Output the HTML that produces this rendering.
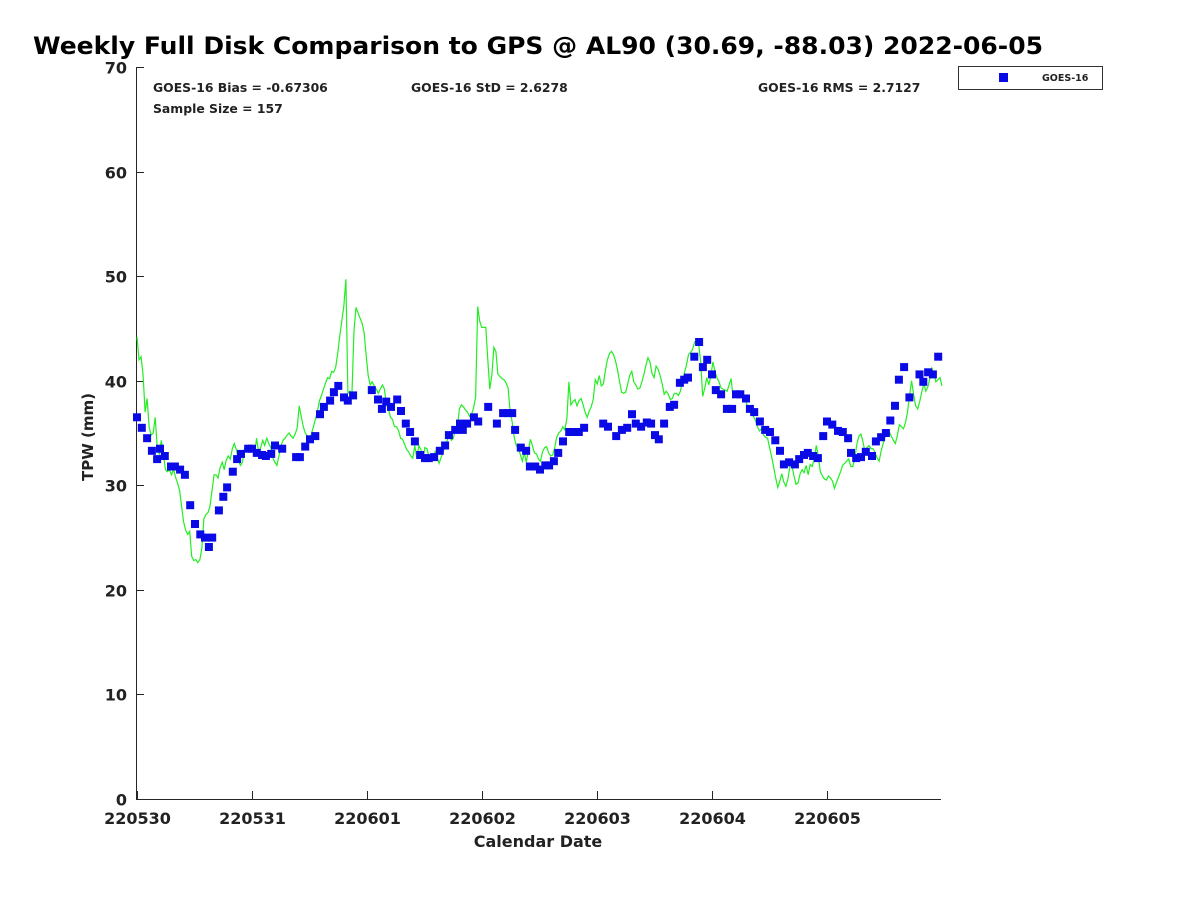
<!DOCTYPE html>
<html><head><meta charset="utf-8"><style>
body{margin:0;background:#fff;}
svg text{font-family:"DejaVu Sans","Liberation Sans",sans-serif;font-weight:bold;fill:#222;}
</style></head><body>
<svg id="chart" width="1200" height="900" xmlns="http://www.w3.org/2000/svg">
<rect width="1200" height="900" fill="#fff"/>
<text x="33" y="54" font-size="24" style="fill:#000" textLength="1010" lengthAdjust="spacingAndGlyphs">Weekly Full Disk Comparison to GPS @ AL90 (30.69, -88.03) 2022-06-05</text>
<g id="axes"></g>
<g id="marks"></g>
<text x="153" y="92" font-size="12.4">GOES-16 Bias = -0.67306</text>
<text x="411" y="92" font-size="12.4">GOES-16 StD = 2.6278</text>
<text x="758" y="92" font-size="12.4">GOES-16 RMS = 2.7127</text>
<text x="153" y="113" font-size="12.4">Sample Size = 157</text>
<g>
<rect x="958.5" y="66.5" width="144" height="23" fill="#fff" stroke="#333" stroke-width="1"/>
<rect x="999" y="73" width="9" height="9" fill="#0a0ae6"/>
<text x="1042" y="81" font-size="9.5">GOES-16</text>
</g>
<text x="538" y="847" font-size="16" text-anchor="middle">Calendar Date</text>
<text transform="translate(93,437) rotate(-90)" font-size="15" text-anchor="middle">TPW (mm)</text>
</svg>
<script>
const xTickLabels = ["220530","220531","220601","220602","220603","220604","220605"];
const yTickValues = [0,10,20,30,40,50,60,70];
const goesHours = [0,1.0,2.1,3.1,4.2,4.8,5.8,7.1,7.9,9.0,10.0,11.1,12.1,13.2,14.2,15.0,15.7,17.1,18.0,18.8,20.0,20.9,21.7,23.2,24.0,25.0,26.1,26.9,28.0,28.8,30.3,33.2,34.0,35.1,36.1,37.2,38.2,39.0,40.3,41.1,42.0,43.2,44.0,45.1,49.0,50.3,51.1,52.0,53.0,54.3,55.1,56.1,57.0,58.0,59.1,60.1,60.9,62.0,63.2,64.3,65.1,66.4,67.4,68.0,68.9,70.3,71.2,73.3,75.1,76.4,77.4,78.3,78.9,80.1,81.2,82.0,83.1,84.1,85.2,86.0,87.0,87.9,88.9,90.2,91.2,92.2,93.3,97.3,98.3,100.0,101.2,102.3,103.3,104.1,105.2,106.4,107.3,108.1,108.9,110.0,111.2,112.1,113.3,114.2,115.0,116.3,117.3,118.1,119.0,120.0,120.8,121.9,123.1,124.2,125.0,125.9,127.1,127.9,128.8,130.0,131.1,132.1,133.2,134.2,135.0,136.1,137.3,138.2,139.2,140.0,141.1,142.1,143.2,144.0,145.1,146.3,147.3,148.4,149.0,150.1,151.1,152.1,153.4,154.2,155.3,156.3,157.2,158.2,159.0,160.1,161.2,163.3,164.1,165.1,166.1,167.2];
const goesTPW = [36.5,35.5,34.5,33.3,32.5,33.5,32.8,31.8,31.8,31.5,31.0,28.1,26.3,25.3,25.0,24.1,25.0,27.6,28.9,29.8,31.3,32.5,33.0,33.5,33.5,33.1,32.9,32.8,33.0,33.8,33.5,32.7,32.7,33.7,34.4,34.7,36.8,37.5,38.1,38.9,39.5,38.4,38.1,38.6,39.1,38.2,37.3,38.0,37.5,38.2,37.1,35.9,35.1,34.2,32.9,32.6,32.6,32.7,33.3,33.8,34.8,35.3,35.9,35.3,35.9,36.5,36.1,37.5,35.9,36.9,36.9,36.9,35.3,33.6,33.3,31.8,31.8,31.5,31.9,31.9,32.3,33.1,34.2,35.1,35.1,35.1,35.5,35.9,35.6,34.7,35.3,35.5,36.8,35.9,35.6,36.0,35.9,34.8,34.4,35.9,37.5,37.7,39.8,40.1,40.3,42.3,43.7,41.3,42.0,40.6,39.1,38.7,37.3,37.3,38.7,38.7,38.3,37.3,37.0,36.1,35.3,35.1,34.3,33.3,32.0,32.2,32.0,32.5,32.9,33.1,32.8,32.6,34.7,36.1,35.8,35.2,35.1,34.5,33.1,32.6,32.7,33.2,32.8,34.2,34.6,35.0,36.2,37.6,40.1,41.3,38.4,40.6,39.9,40.8,40.6,42.3];
const gpsTPW = [44.2,42,42.3,40.5,37,38.3,35.5,34.8,35,36.5,33.5,33,34.3,33,31.5,31.3,31.5,31,31.5,30.8,30.2,29.5,28,26.5,25.7,25.3,25.6,23.2,22.8,22.9,22.6,22.9,24,26.8,27.2,27.4,28,29.5,31,31,30.7,31.7,32.2,31.5,32.4,32.8,32.5,33.5,34,33.4,32.4,31.9,32.2,33.5,33.2,33.7,33.6,33.5,33,34.5,33.1,33.6,34.3,33.8,34.5,34,33.6,32.6,32.2,31.9,32.8,33.8,34.3,34.5,34.8,35,34.7,34.5,34.9,35.5,37.6,36.6,35.6,35,34.7,34.4,34.9,35.6,36.3,37.1,38.1,38.6,39.2,39.8,40.3,40.2,40.9,40.8,41.3,42.6,44.3,45.7,47.1,49.7,38.8,39,38.6,44.8,47,46.5,46,45.5,44.6,42.5,40.5,39.6,39.9,39.5,39.2,38.8,39.2,39.6,39.2,37.7,37.3,36.5,36.3,35.6,35.6,35.2,34.5,34.4,33.9,33.4,33.2,32.8,32.6,33.8,32.6,33.8,33.4,32.5,33.6,33.5,32.7,32.5,32.6,33.2,32.7,32.1,32.7,33.2,33.8,34.3,34.9,34.3,34.5,35.4,35.6,37.3,37.7,37.5,37.2,37,36.6,36.8,37.4,38.4,47.1,45.7,45.1,45.1,45.1,42,39.2,40.5,43.2,42.8,40.6,40.4,40.2,40.1,39.8,39.3,37.1,36.1,34.6,33.8,33.5,33,32.3,33.1,32.2,33.3,34.4,33.8,33.1,33,32.5,32.3,33.2,33.6,33.7,33.1,32.8,32.9,33.6,34.6,35,35.2,35.6,35.3,36.4,39.9,37.7,38,38.2,37.6,38.1,38.3,37.7,37,36.5,37.1,37.5,38.2,40.1,39.7,40.5,39.5,39.7,41,42,42.6,42.8,42.5,41.9,41,39.9,38.9,38.8,38.9,39.7,40.5,40.9,39.9,39.6,39.2,39.3,39.9,40.6,41.5,42.2,41.8,40.7,40.3,41.4,41.1,40.5,39.7,38.7,39,38.7,38.2,38.3,38.8,38.8,38.6,39,40,40.8,41.5,42.5,42.7,43,43.7,43.8,43.5,41.8,38.5,39.3,40.3,39.6,40.4,41.8,40.9,40.3,39.9,39.3,39.2,39.1,39,39.6,40.2,38.3,38.9,38.6,38.4,38.9,38.4,38.2,37.6,37.1,36.8,36.6,36.2,35.6,35.2,35.4,34.8,34.6,34.5,33.6,32.7,31.7,30.7,29.8,30.4,31.1,30.3,29.9,30.6,31.8,31.9,30.9,30.1,30.2,31.1,31.5,31.2,31.9,31,32,31.8,32.6,33.8,32.8,31.3,30.9,30.6,30.5,30.9,30.7,30.4,29.7,30.3,30.8,31.3,31.9,32.1,32.3,32.5,31.8,31.8,32.6,33.9,34.7,34.9,34.2,33.2,33.6,33.8,33.5,33.5,33.1,32.6,32.3,33.3,34,34.7,35.2,35.1,34.7,34.3,34,34.8,35.8,35.6,35.4,36,37,38.6,40,38.7,37.6,37.3,38,38.9,39.7,39,39.4,40.2,41.2,40.7,39.9,40.1,40.3,39.5];
const gpsStartHour = 0, gpsEndHour = 168;

const NS = "http://www.w3.org/2000/svg";
const L=136, R=941, T=67, B=799, dayPx=115, x0=137;
const xScale = h => x0 + h/24*dayPx;
const yScale = v => B - (v/70)*(B-T);
function mk(tag, attrs, parent){const e=document.createElementNS(NS,tag);for(const k in attrs)e.setAttribute(k,attrs[k]);parent.appendChild(e);return e;}
const axes=document.getElementById('axes'), marks=document.getElementById('marks');

const yAxis = mk('line',{x1:L+0.5,y1:T,x2:L+0.5,y2:B+0.5,stroke:'#262626','stroke-width':1},axes);


const xAxis = mk('line',{x1:L,y1:B+0.5,x2:R,y2:B+0.5,stroke:'#262626','stroke-width':1},axes);



yTickValues.forEach(v=>{
  const y=Math.round(yScale(v))+0.5;
  const t=mk('line',{x1:L,y1:y,x2:L+8,y2:y,stroke:'#262626'},axes);
  
  
  const lb=mk('text',{x:L-9,y:y+6,'font-size':16,'text-anchor':'end'},axes);
  lb.textContent=v;
  
  
});
xTickLabels.forEach((s,i)=>{
  const x=Math.round(xScale(i*24))+0.5;
  const t=mk('line',{x1:x,y1:B,x2:x,y2:B-8,stroke:'#262626'},axes);
  
  
  const lb=mk('text',{x:x,y:B+25,'font-size':16,'text-anchor':'middle'},axes);
  lb.textContent=s;
  
  
});

const n=gpsTPW.length;
const pts=gpsTPW.map((v,i)=>{const h=gpsStartHour+(gpsEndHour-gpsStartHour)*i/(n-1);return xScale(h).toFixed(1)+','+yScale(v).toFixed(1);}).join(' ');
const line=mk('polyline',{points:pts,fill:'none',stroke:'#22ee22','stroke-width':1.2},marks);



goesHours.forEach((h,i)=>{
  const r=mk('rect',{x:(xScale(h)-4).toFixed(1),y:(yScale(goesTPW[i])-4).toFixed(1),width:8,height:8,fill:'#0a0ae6'},marks);
  
  
});
</script>
</body></html>
